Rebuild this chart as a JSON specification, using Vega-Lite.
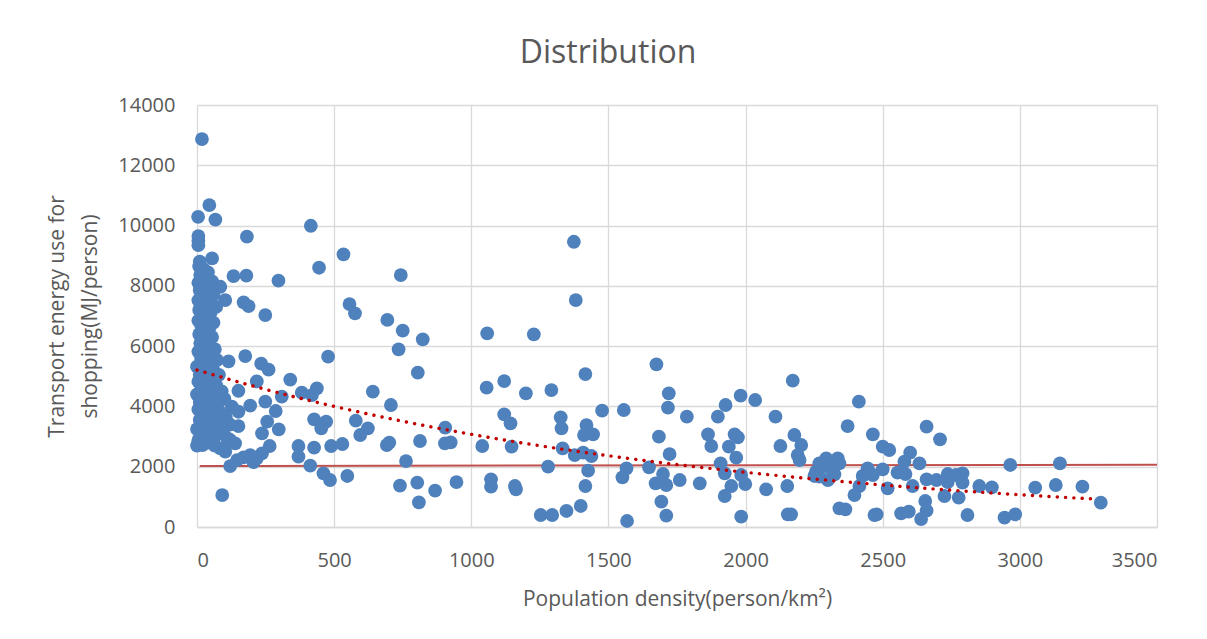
{
  "$schema": "https://vega.github.io/schema/vega-lite/v6.json",
  "autosize": {"type": "none"},
  "width": 960,
  "height": 422,
  "padding": {"left": 197, "top": 105, "right": 50, "bottom": 112},
  "background": "white",
  "title": {"text": "Distribution", "font": "Open Sans", "fontSize": 32, "fontWeight": "normal", "color": "#595959", "anchor": "middle", "dx": -69, "offset": 0, "baseline": "alphabetic"},
  "config": {
    "view": {"stroke": null},
    "axis": {"labelFont": "Open Sans", "titleFont": "Open Sans", "labelColor": "#595959", "titleColor": "#595959", "labelFontSize": 20, "titleFontSize": 21, "titleFontWeight": "normal", "gridColor": "#D9D9D9", "gridWidth": 1.3, "ticks": false}
  },
  "datasets": {
    "pts": [
      {"d":18,"e":12870},{"d":45,"e":10680},{"d":4,"e":10290},{"d":67,"e":10200},{"d":5,"e":9650},{"d":5,"e":9500},{"d":5,"e":9350},{"d":182,"e":9630},{"d":55,"e":8910},
      {"d":10,"e":8800},{"d":8,"e":8650},{"d":25,"e":8550},{"d":40,"e":8450},{"d":12,"e":8350},{"d":133,"e":8326},{"d":180,"e":8336},{"d":297,"e":8170},{"d":30,"e":8250},{"d":55,"e":8150},{"d":5,"e":8100},{"d":20,"e":8000},{"d":45,"e":7950},{"d":85,"e":7970},{"d":10,"e":7850},{"d":35,"e":7780},{"d":60,"e":7700},{"d":15,"e":7620},{"d":5,"e":7520},{"d":103,"e":7530},{"d":170,"e":7453},{"d":188,"e":7330},{"d":40,"e":7450},{"d":25,"e":7350},{"d":70,"e":7300},{"d":8,"e":7200},{"d":50,"e":7120},{"d":249,"e":7032},{"d":20,"e":7050},{"d":35,"e":6950},{"d":60,"e":6780},{"d":5,"e":6850},{"d":15,"e":6700},{"d":45,"e":6600},{"d":25,"e":6500},{"d":8,"e":6400},{"d":55,"e":6300},{"d":30,"e":6200},{"d":12,"e":6100},{"d":40,"e":6020},{"d":20,"e":5950},{"d":65,"e":5900},{"d":5,"e":5820},{"d":35,"e":5750},{"d":50,"e":5650},{"d":15,"e":5600},{"d":176,"e":5672},{"d":73,"e":5540},{"d":115,"e":5495},{"d":28,"e":5450},{"d":234,"e":5420},{"d":0,"e":5320},{"d":45,"e":5300},{"d":261,"e":5220},{"d":60,"e":5200},{"d":20,"e":5150},{"d":10,"e":5050},{"d":80,"e":5050},{"d":35,"e":4980},{"d":55,"e":4900},{"d":340,"e":4890},{"d":5,"e":4820},{"d":218,"e":4830},{"d":25,"e":4750},{"d":70,"e":4700},{"d":45,"e":4600},{"d":15,"e":4550},{"d":151,"e":4520},{"d":90,"e":4500},{"d":35,"e":4450},{"d":0,"e":4400},{"d":60,"e":4350},{"d":309,"e":4322},{"d":20,"e":4300},{"d":50,"e":4200},{"d":100,"e":4250},{"d":249,"e":4156},{"d":10,"e":4150},{"d":75,"e":4100},{"d":194,"e":4030},{"d":30,"e":4050},{"d":127,"e":3990},{"d":55,"e":3950},{"d":5,"e":3900},{"d":287,"e":3848},{"d":40,"e":3850},{"d":151,"e":3824},{"d":85,"e":3800},{"d":20,"e":3750},{"d":65,"e":3700},{"d":105,"e":3650},{"d":35,"e":3600},{"d":10,"e":3550},{"d":256,"e":3493},{"d":50,"e":3500},{"d":80,"e":3450},{"d":25,"e":3400},{"d":151,"e":3350},{"d":120,"e":3400},{"d":60,"e":3300},{"d":0,"e":3250},{"d":298,"e":3241},{"d":40,"e":3200},{"d":237,"e":3108},{"d":95,"e":3150},{"d":15,"e":3100},{"d":70,"e":3050},{"d":30,"e":3000},{"d":50,"e":2950},{"d":110,"e":2950},{"d":5,"e":2880},{"d":121,"e":2886},{"d":139,"e":2776},{"d":40,"e":2800},{"d":265,"e":2687},{"d":85,"e":2610},{"d":65,"e":2700},{"d":20,"e":2720},{"d":103,"e":2500},{"d":0,"e":2700},{"d":237,"e":2444},{"d":218,"e":2279},{"d":194,"e":2388},{"d":170,"e":2310},{"d":146,"e":2222},{"d":206,"e":2150},{"d":121,"e":2020},{"d":92,"e":1061},
      {"d":415,"e":9994},{"d":534,"e":9045},{"d":445,"e":8601},{"d":743,"e":8359},{"d":556,"e":7397},{"d":576,"e":7088},{"d":694,"e":6870},{"d":750,"e":6512},{"d":823,"e":6225},{"d":735,"e":5894},{"d":478,"e":5650},{"d":805,"e":5119},{"d":382,"e":4455},{"d":437,"e":4600},{"d":419,"e":4378},{"d":641,"e":4488},{"d":707,"e":4047},{"d":427,"e":3572},{"d":471,"e":3493},{"d":453,"e":3274},{"d":579,"e":3526},{"d":623,"e":3274},{"d":595,"e":3052},{"d":905,"e":3294},{"d":701,"e":2796},{"d":692,"e":2720},{"d":813,"e":2853},{"d":904,"e":2776},{"d":925,"e":2809},{"d":1040,"e":2687},{"d":370,"e":2687},{"d":370,"e":2332},{"d":427,"e":2630},{"d":489,"e":2687},{"d":530,"e":2753},{"d":762,"e":2189},{"d":413,"e":2033},{"d":461,"e":1781},{"d":485,"e":1559},{"d":548,"e":1692},{"d":740,"e":1370},{"d":803,"e":1470},{"d":868,"e":1210},{"d":946,"e":1490},{"d":809,"e":819},
      {"d":1374,"e":9463},{"d":1381,"e":7530},{"d":1058,"e":6425},{"d":1228,"e":6392},{"d":1675,"e":5397},{"d":2172,"e":4853},{"d":1056,"e":4621},{"d":1120,"e":4843},{"d":1199,"e":4435},{"d":1292,"e":4544},{"d":1416,"e":5075},{"d":1720,"e":4435},{"d":1717,"e":3957},{"d":1982,"e":4355},{"d":2035,"e":4213},{"d":1927,"e":4047},{"d":1899,"e":3659},{"d":1477,"e":3858},{"d":1556,"e":3881},{"d":1786,"e":3659},{"d":2109,"e":3659},{"d":1120,"e":3738},{"d":1143,"e":3440},{"d":1326,"e":3639},{"d":1329,"e":3274},{"d":1420,"e":3383},{"d":1411,"e":3052},{"d":1444,"e":3075},{"d":1684,"e":2995},{"d":1863,"e":3075},{"d":1875,"e":2687},{"d":1960,"e":3075},{"d":1972,"e":2975},{"d":1939,"e":2664},{"d":1966,"e":2299},{"d":2178,"e":3052},{"d":2203,"e":2720},{"d":2127,"e":2687},{"d":2190,"e":2388},{"d":2197,"e":2222},{"d":1147,"e":2664},{"d":1333,"e":2610},{"d":1377,"e":2388},{"d":1408,"e":2465},{"d":1438,"e":2355},{"d":1723,"e":2421},{"d":1909,"e":2113},{"d":1280,"e":2000},{"d":1566,"e":1947},{"d":1551,"e":1648},{"d":1648,"e":1980},{"d":1426,"e":1868},{"d":1699,"e":1758},{"d":1672,"e":1449},{"d":1711,"e":1393},{"d":1760,"e":1559},{"d":1833,"e":1449},{"d":1924,"e":1781},{"d":1948,"e":1360},{"d":1924,"e":1028},{"d":1984,"e":1725},{"d":1999,"e":1426},{"d":2075,"e":1250},{"d":2152,"e":1360},{"d":2257,"e":1834},{"d":2300,"e":2000},{"d":2336,"e":2279},{"d":2300,"e":1559},{"d":2251,"e":1692},{"d":1072,"e":1582},{"d":1072,"e":1337},{"d":1159,"e":1360},{"d":1163,"e":1250},{"d":1416,"e":1360},{"d":1253,"e":398},{"d":1295,"e":398},{"d":1347,"e":531},{"d":1399,"e":697},{"d":1568,"e":199},{"d":1693,"e":840},{"d":1711,"e":376},{"d":1984,"e":343},{"d":2154,"e":420},{"d":2166,"e":420},{"d":2342,"e":619},
      {"d":2413,"e":4157},{"d":2372,"e":3350},{"d":2464,"e":3075},{"d":2500,"e":2664},{"d":2524,"e":2554},{"d":2660,"e":3327},{"d":2709,"e":2909},{"d":2600,"e":2465},{"d":2579,"e":2166},{"d":2634,"e":2113},{"d":2294,"e":2279},{"d":2342,"e":2113},{"d":2324,"e":1748},{"d":2269,"e":2113},{"d":2269,"e":1670},{"d":2445,"e":1947},{"d":2427,"e":1692},{"d":2464,"e":1725},{"d":2500,"e":1914},{"d":2415,"e":1360},{"d":2397,"e":1061},{"d":2518,"e":1283},{"d":2554,"e":1801},{"d":2583,"e":1758},{"d":2609,"e":1360},{"d":2660,"e":1582},{"d":2696,"e":1559},{"d":2737,"e":1758},{"d":2767,"e":1725},{"d":2791,"e":1781},{"d":2725,"e":1028},{"d":2777,"e":972},{"d":2737,"e":1492},{"d":2791,"e":1470},{"d":2852,"e":1360},{"d":2898,"e":1317},{"d":2655,"e":862},{"d":2660,"e":541},{"d":2640,"e":265},{"d":2567,"e":454},{"d":2595,"e":508},{"d":2470,"e":398},{"d":2478,"e":420},{"d":2364,"e":586},{"d":2809,"e":398},{"d":2944,"e":309},{"d":2983,"e":420},{"d":2965,"e":2057},{"d":3146,"e":2113},{"d":3056,"e":1304},{"d":3131,"e":1393},{"d":3228,"e":1337},{"d":3295,"e":806}
    ],
    "trend": [
      {"d":0,"e":5208},{"d":250,"e":4565},{"d":500,"e":4002},{"d":750,"e":3508},{"d":1000,"e":3075},{"d":1250,"e":2695},{"d":1500,"e":2363},{"d":1750,"e":2071},{"d":2000,"e":1815},{"d":2250,"e":1591},{"d":2500,"e":1395},{"d":2750,"e":1222},{"d":3000,"e":1071},{"d":3270,"e":930}
    ],
    "ref": [{"d":10,"e":2023},{"d":3500,"e":2067}]
  },
  "encoding": {
    "x": {"field": "d", "type": "quantitative", "scale": {"domain": [0, 3500], "nice": false},
      "axis": {"values": [0,500,1000,1500,2000,2500,3000,3500], "format": "d", "title": "Population density(person/km²)", "labelPadding": 23, "titlePadding": 18, "domain": true, "domainColor": "#D9D9D9", "domainWidth": 1.3}},
    "y": {"field": "e", "type": "quantitative", "scale": {"domain": [0, 14000], "nice": false},
      "axis": {"values": [0,2000,4000,6000,8000,10000,12000,14000], "title": ["Transport energy use for", "shopping(MJ/person)"], "titleLineHeight": 33, "labelPadding": 22, "titlePadding": 17, "domain": false, "format": "d"}}
  },
  "layer": [
    {"data": {"name": "ref"}, "mark": {"type": "line", "color": "#C0504D", "strokeWidth": 2}},
    {"data": {"name": "pts"}, "mark": {"type": "circle", "size": 190, "color": "#4F81BD", "opacity": 1}},
    {"data": {"name": "trend"}, "mark": {"type": "line", "color": "#C00000", "strokeWidth": 3.4, "strokeCap": "round", "strokeDash": [0.1, 8.2], "interpolate": "monotone"}}
  ]
}
